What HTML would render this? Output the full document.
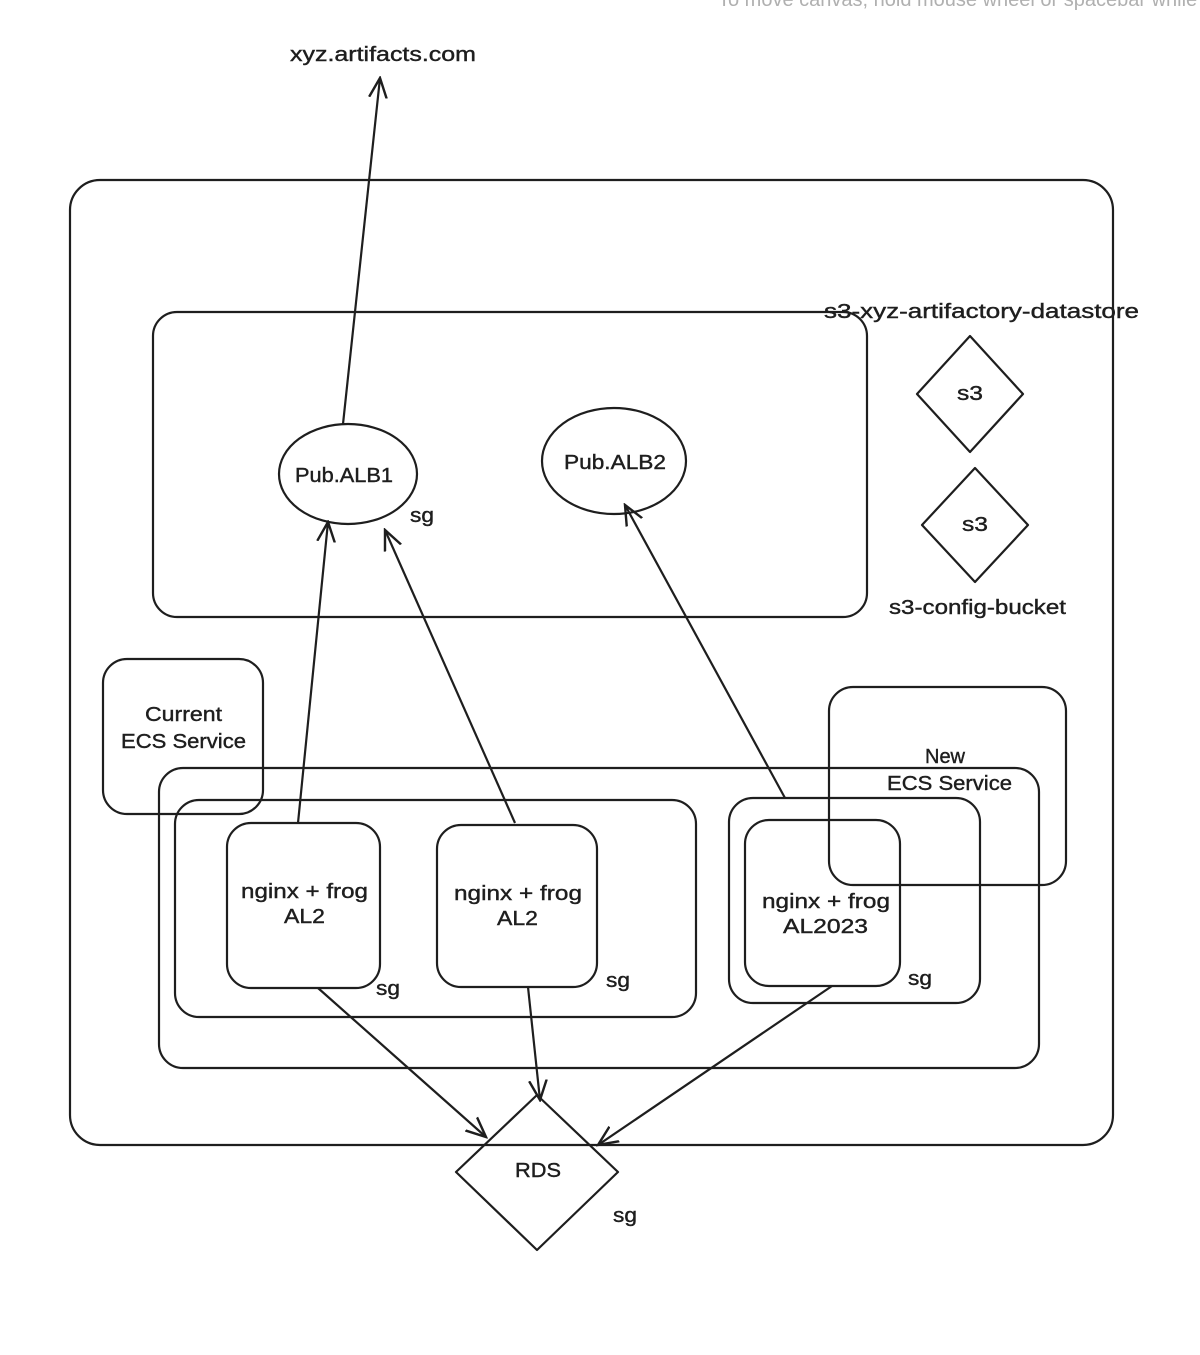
<!DOCTYPE html>
<html><head><meta charset="utf-8"><style>
html,body{margin:0;padding:0;background:#fff;width:1200px;height:1355px;overflow:hidden}
svg text{font-family:"Liberation Sans",sans-serif;fill:#1e1e1e}
</style></head><body>
<svg width="1200" height="1355" viewBox="0 0 1200 1355" xmlns="http://www.w3.org/2000/svg">
<defs><marker id="a" viewBox="0 0 20 20" refX="18" refY="10" markerWidth="22" markerHeight="22" markerUnits="userSpaceOnUse" orient="auto"><path d="M0 2 L18 10 L0 18" fill="none" stroke="#1e1e1e" stroke-width="2.2"/></marker></defs>
<text x="718" y="6" font-size="20" style="fill:#b0b0b0">To move canvas, hold mouse wheel or spacebar while d</text>
<g fill="none" stroke="#1e1e1e" stroke-width="2.2">
<rect x="70" y="180" width="1043" height="965" rx="30"/>
<rect x="153" y="312" width="714" height="305" rx="24"/>
<rect x="103" y="659" width="160" height="155" rx="24"/>
<rect x="159" y="768" width="880" height="300" rx="24"/>
<rect x="175" y="800" width="521" height="217" rx="24"/>
<rect x="729" y="798" width="251" height="205" rx="24"/>
<rect x="829" y="687" width="237" height="198" rx="24"/>
<rect x="227" y="823" width="153" height="165" rx="24"/>
<rect x="437" y="825" width="160" height="162" rx="24"/>
<rect x="745" y="820" width="155" height="166" rx="24"/>
<ellipse cx="348" cy="474" rx="69" ry="50"/>
<ellipse cx="614" cy="461" rx="72" ry="53"/>
<path d="M970 336 L1023 394 L970 452 L917 394 Z" stroke-linejoin="round"/>
<path d="M975 468 L1028 525 L975 582 L922 525 Z" stroke-linejoin="round"/>
<path d="M537 1095 L618 1172 L537 1250 L456 1172 Z" stroke-linejoin="round"/>
<path d="M343 424 L380 78" marker-end="url(#a)"/>
<path d="M298 823 L328 522" marker-end="url(#a)"/>
<path d="M515 823 L385 530" marker-end="url(#a)"/>
<path d="M785 798 L625 505" marker-end="url(#a)"/>
<path d="M318 988 L486 1137" marker-end="url(#a)"/>
<path d="M528 987 L540 1100" marker-end="url(#a)"/>
<path d="M832 986 L598 1145" marker-end="url(#a)"/>
</g>
<g font-size="20" stroke="#1e1e1e" stroke-width="0.4" lengthAdjust="spacingAndGlyphs">
<text x="290" y="61" textLength="186" lengthAdjust="spacingAndGlyphs">xyz.artifacts.com</text>
<text x="824" y="318" textLength="315" lengthAdjust="spacingAndGlyphs">s3-xyz-artifactory-datastore</text>
<text x="889" y="614" textLength="177" lengthAdjust="spacingAndGlyphs">s3-config-bucket</text>
<text x="957" y="400" textLength="26" lengthAdjust="spacingAndGlyphs">s3</text>
<text x="962" y="531" textLength="26" lengthAdjust="spacingAndGlyphs">s3</text>
<text x="295" y="482" textLength="98" lengthAdjust="spacingAndGlyphs">Pub.ALB1</text>
<text x="564" y="469" textLength="102" lengthAdjust="spacingAndGlyphs">Pub.ALB2</text>
<text x="145" y="721" textLength="77" lengthAdjust="spacingAndGlyphs">Current</text>
<text x="121" y="748" textLength="125" lengthAdjust="spacingAndGlyphs">ECS Service</text>
<text x="925" y="763" textLength="40" lengthAdjust="spacingAndGlyphs">New</text>
<text x="887" y="790" textLength="125" lengthAdjust="spacingAndGlyphs">ECS Service</text>
<text x="241" y="898" textLength="127" lengthAdjust="spacingAndGlyphs">nginx + frog</text>
<text x="284" y="923" textLength="41" lengthAdjust="spacingAndGlyphs">AL2</text>
<text x="454" y="900" textLength="128" lengthAdjust="spacingAndGlyphs">nginx + frog</text>
<text x="497" y="925" textLength="41" lengthAdjust="spacingAndGlyphs">AL2</text>
<text x="762" y="908" textLength="128" lengthAdjust="spacingAndGlyphs">nginx + frog</text>
<text x="783" y="933" textLength="85" lengthAdjust="spacingAndGlyphs">AL2023</text>
<text x="515" y="1177" textLength="46" lengthAdjust="spacingAndGlyphs">RDS</text>
<text x="410" y="522" textLength="24" lengthAdjust="spacingAndGlyphs">sg</text>
<text x="376" y="995" textLength="24" lengthAdjust="spacingAndGlyphs">sg</text>
<text x="606" y="987" textLength="24" lengthAdjust="spacingAndGlyphs">sg</text>
<text x="908" y="985" textLength="24" lengthAdjust="spacingAndGlyphs">sg</text>
<text x="613" y="1222" textLength="24" lengthAdjust="spacingAndGlyphs">sg</text>
</g>
</svg>
</body></html>
